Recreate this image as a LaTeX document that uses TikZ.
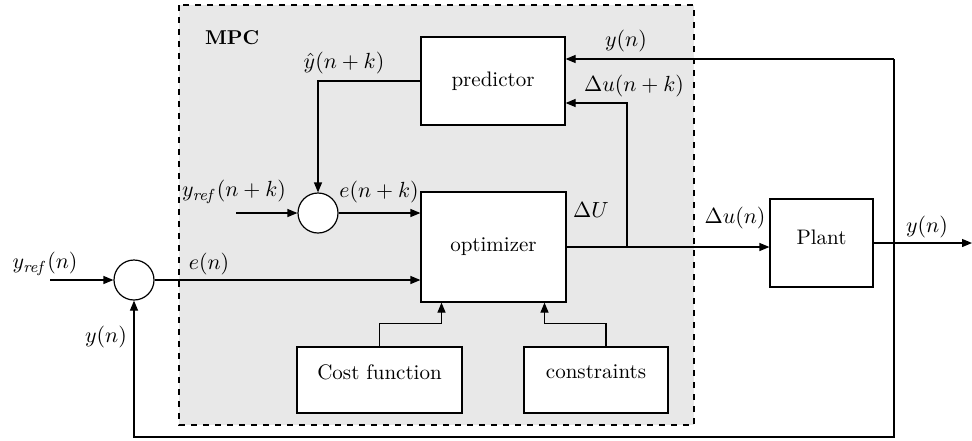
\documentclass[tikz,border=0pt]{standalone}
\usepackage{tikz}
\usetikzlibrary{arrows.meta,positioning,calc}
\definecolor{mpcgray}{RGB}{232,232,232}
\tikzset{
    line/.style  = {-{Triangle[length=5pt,width=4pt]}, line width=0.6pt},
    wire/.style  = {line width=0.6pt},
    block/.style = {draw, line width=0.6pt, fill=white, align=center, inner sep=2pt,
            font=\fontsize{10.5pt}{12pt}\selectfont},
    sumdot/.style = {circle, draw, line width=0.6pt, fill=white,
            minimum size=20pt, inner sep=0pt},
    sig/.style   = {inner sep=1pt, font=\fontsize{11pt}{13pt}\selectfont},
}
\begin{document}
\begin{tikzpicture}[x=0.5pt, y=-0.5pt]
    \useasboundingbox (0,0) rectangle (972,440);
    % MPC frame
    \draw[dashed, line width=0.6pt, fill=mpcgray] (179,5) rectangle (694,425);
    \node[anchor=west, font=\bfseries] (mpc) at (198,38) {MPC};
    % Nodes
    \node[block, minimum width=72pt, minimum height=44pt] (pred) at (493,81) {predictor};
    \node[block, minimum width=72.5pt, minimum height=55pt] (opt) at (493.5,247) {optimizer};
    \node[block, minimum width=51.5pt, minimum height=44pt, text depth=6pt] (plant) at (821.5,243) {Plant};
    \node[block, minimum width=82.5pt, minimum height=33pt, text depth=8pt] (cost) at (379.5,380) {Cost function};
    \node[block, minimum width=72pt, minimum height=33pt, text depth=8pt] (cons) at (596,380) {constraints};
    \node[sumdot] (sum1) at (134,280) {};
    \node[sumdot] (sum2) at (318,213) {};
    % free ends and branch points
    \coordinate (r1) at (50,280);
    \coordinate (r2) at (236,213);
    \coordinate (du) at (627,247);
    \coordinate (tap) at (894,243);
    \coordinate (ytop) at (894,59);
    \coordinate (ybot) at (894,437);
    \coordinate (yout) at (972,243);
    % Arrows
    \draw[line] (r1) -- (sum1.west);
    \node[sig] (lref1) at (45,264) {$y_{\mathit{ref}}(n)$};
    \draw[line] (sum1.east) -- (sum1.east -| opt.west);
    \node[sig] (len) at (209,264) {$e(n)$};
    \draw[line] (r2) -- (sum2.west);
    \node[sig] (lref2) at (234,192) {$y_{\mathit{ref}}(n+k)$};
    \draw[line] (sum2.east) -- (sum2.east -| opt.west);
    \node[sig] (lenk) at (379,192) {$e(n+k)$};
    \draw[line] (pred.west) -| (sum2.north);
    \node[sig] (lyhat) at (344,63) {$\hat{y}(n+k)$};
    \draw[line] (opt.east) -- (opt.east -| plant.west);
    \node[sig] (ldU) at (591,210) {$\Delta U$};
    \node[sig] (ldun) at (735,218) {$\Delta u(n)$};
    \draw[line] (du) |- ($(pred.east)+(0,22)$);
    \node[sig] (ldunk) at (634,86) {$\Delta u(n+k)$};
    \draw[line] (plant.east) -- (yout);
    \node[sig] (lyout) at (927,227) {$y(n)$};
    \draw[wire] (tap) -- (ytop);
    \draw[line] (ytop) -- (ytop -| pred.east);
    \node[sig] (lytop) at (626,41) {$y(n)$};
    \draw[line] (tap) -- (ybot) -| (sum1.south);
    \node[sig] (lyfb) at (106,337) {$y(n)$};
    \draw[line] (cost.north) -- ++(0,-23) -| ($(opt.south)+(-52,0)$);
    \draw[line] ($(cons.north)+(10,0)$) -- ++(0,-23) -| ($(opt.south)+(51,0)$);
\end{tikzpicture}
\end{document}
